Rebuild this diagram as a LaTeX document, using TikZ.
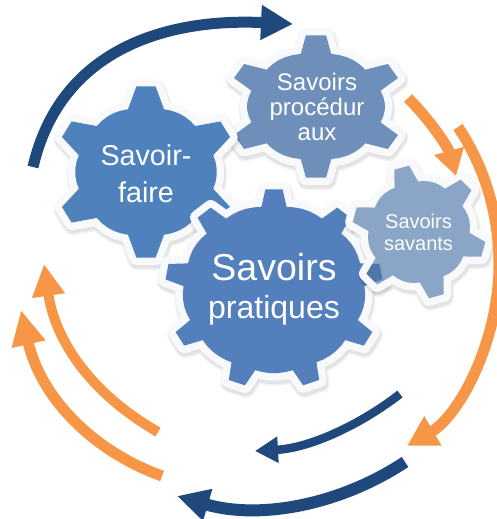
\documentclass[tikz,border=0pt]{standalone}
\usepackage{fontspec}
\setmainfont{Liberation Sans}
\usetikzlibrary{arrows.meta}
\definecolor{navyarc}{HTML}{1F497D}
\definecolor{orangearc}{HTML}{F79646}
\definecolor{gearA}{HTML}{4F81BD}
\definecolor{gearB}{HTML}{6D8FBA}
\definecolor{gearC}{HTML}{5380BC}
\definecolor{gearD}{HTML}{8AA5C6}
\definecolor{gearDark}{HTML}{4D78AD}
\definecolor{halo}{HTML}{F8F9FB}
\tikzset{
  gearlabel/.style={text=white,align=center,inner sep=0pt},
  navy/.style={draw=navyarc,line cap=butt},
  orangey/.style={draw=orangearc,line cap=butt}
}
% #1 teeth, #2 tip radius, #3 root radius, #4 tip half angle, #5 base half angle, #6 rotation
\newcommand\gearoutline[6]{%
  ({#6-90-#5}:#3)%
  \foreach \gi in {1,...,#1}{%
    -- ({#6-90+360/#1*(\gi-1)-#4}:#2)
    -- ({#6-90+360/#1*(\gi-1)+#4}:#2)
    -- ({#6-90+360/#1*(\gi-1)+#5}:#3)
    \foreach \gt in {0.2,0.4,0.6,0.8}{%
      -- ({#6-90+360/#1*(\gi-1)+#5+\gt*(360/#1-2*#5)}:{#3+1.2*sin(180*\gt)})
    }%
    -- ({#6-90+360/#1*\gi-#5}:#3)
  } -- cycle
}
% x, y, xscale, teeth, tip, root, tip half angle, base half angle, rotation, fill
\newcommand\gearshape[9]{%
  \def\gA{#1}\def\gB{#2}\def\gC{#3}\def\gD{#4}\def\gE{#5}\def\gF{#6}\def\gG{#7}\def\gH{#8}\def\gI{#9}\gearshapeC}
\newcommand\gearshapeC[1]{%
  \begin{scope}[shift={(\gA+1,\gB+3)},xscale=\gC]
    \draw[black,opacity=.05,line width=19,line join=round] \gearoutline{\gD}{\gE}{\gF}{\gG}{\gH}{\gI};
    \draw[black,opacity=.06,line width=16,line join=round] \gearoutline{\gD}{\gE}{\gF}{\gG}{\gH}{\gI};
  \end{scope}
  \begin{scope}[shift={(\gA,\gB)},xscale=\gC]
    \draw[halo,line width=15,line join=round] \gearoutline{\gD}{\gE}{\gF}{\gG}{\gH}{\gI};
    \fill[#1] \gearoutline{\gD}{\gE}{\gF}{\gG}{\gH}{\gI};
  \end{scope}}
\begin{document}
\begin{tikzpicture}[x=1pt,y=-1pt]
\useasboundingbox (0,0) rectangle (497,519);
\fill[white] (0,0) rectangle (497,519);

% gears
\gearshape{316}{106.5}{1.25}{6}{71.5}{54}{6.5}{13}{0}{gearB}
\gearshape{146}{172}{1.07}{6}{86}{65}{6}{15}{0}{gearA}
\gearshape{274}{289}{1.09}{9}{100}{83}{4.5}{8}{0}{gearC}
\gearshape{419}{232}{1}{6}{67}{50.5}{6.5}{14}{-15}{gearD}
% the tooth of the large gear that shows through the small one
\begin{scope}[shift={(419,232)}]
  \clip \gearoutline{6}{67}{50.5}{6.5}{14}{-15};
  \begin{scope}[shift={(-145,57)},xscale=1.09]
    \fill[gearDark] \gearoutline{9}{100}{83}{4.5}{8}{0};
  \end{scope}
\end{scope}

% labels
\node[gearlabel,font=\fontsize{28.7}{37}\selectfont] (faire) at (146,174) {Savoir-\\faire};
\node[gearlabel,font=\fontsize{24}{25}\selectfont] (proc) at (317,107) {Savoirs\\procédur\\aux};
\node[gearlabel,font=\fontsize{20}{22}\selectfont] (savants) at (418.5,232) {Savoirs\\savants};
\node[gearlabel,font=\fontsize{32}{38}\selectfont] (prat) at (274,289) {\fontsize{37.5}{38}\selectfont Savoirs\\pratiques};

% arrows
\draw[navy,line width=11,-{Triangle[length=32,width=33]}] (33,167) .. controls (60,50) and (165,18) .. (293,24);
\draw[orangey,line width=11,-{Triangle[length=26,width=29]}] (408,98) .. controls (430,120) and (448,147) .. (456,176);
\draw[orangey,line width=11,-{Triangle[length=30,width=32]}] (458,127) .. controls (490,175) and (499,225) .. (499,265) .. controls (499,340) and (460,415) .. (407,446);
\draw[navy,line width=8.5,-{Triangle[length=23,width=25]}] (400,394) .. controls (360,425) and (310,448) .. (255,451);
\draw[navy,line width=12,-{Triangle[length=32,width=31]}] (405,462) .. controls (340,505) and (260,520) .. (177,496);
\draw[orangey,line width=11,-{Triangle[length=35,width=32]}] (162,476) .. controls (90,450) and (40,395) .. (21,310);
\draw[orangey,line width=10,-{Triangle[length=32,width=31]}] (158,432) .. controls (90,393) and (55,340) .. (44,264);
\end{tikzpicture}
\end{document}
